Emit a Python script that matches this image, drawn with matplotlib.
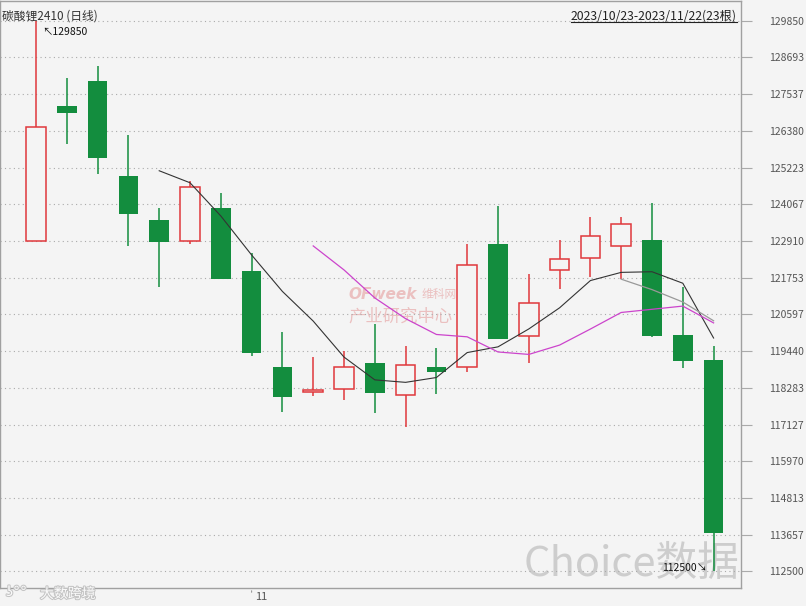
import numpy as np
import pandas as pd
import matplotlib
matplotlib.use('Agg')
from matplotlib import pyplot as plt
from matplotlib.lines import Line2D
import matplotlib.patheffects as pe

plt.rcParams['font.family'] = ['Noto Sans CJK SC', 'DejaVu Sans']

# daily K-line, 碳酸锂2410, 2023/10/23 - 2023/11/22
dates = pd.bdate_range('2023-10-23', '2023-11-22')
opens = [122920, 127160, 127950, 124960, 123570, 122900, 123950, 121970, 118940, 118140, 118260, 119080,
         118050, 118940, 118930, 122820, 119920, 121990, 122370, 122740, 122940, 119950, 119160]
closes = [126490, 126950, 125535, 123750, 122890, 124600, 121720, 119390, 118010, 118220, 118930, 118130,
          119000, 118770, 122150, 119830, 120950, 122330, 123060, 123440, 119930, 119140, 113700]
highs = [129850, 128060, 128420, 126250, 123950, 124790, 124430, 122520, 120040, 119260, 119450, 120300,
         119600, 119530, 122820, 124020, 121870, 122940, 123680, 123660, 124100, 121470, 119600]
lows = [122920, 125960, 125010, 122750, 121450, 122830, 121720, 119300, 117530, 118040, 117890, 117480,
        117040, 118080, 118790, 119830, 119080, 121390, 121770, 121700, 119900, 118920, 112500]
yticks = [129850, 128693, 127537, 126380, 125223, 124067, 122910, 121753, 120597, 119440,
          118283, 117127, 115970, 114813, 113657, 112500]

df = pd.DataFrame({'open': opens, 'close': closes, 'high': highs, 'low': lows}, index=dates)
ma5 = df['close'].rolling(5).mean()
ma10 = df['close'].rolling(10).mean()
ma20 = df['close'].rolling(20).mean()

bg = '#f4f4f4'
red = '#e0383c'
green = '#138d3e'

fig = plt.figure(figsize=(8.06, 6.06), dpi=100, facecolor=bg)
ax = fig.add_axes([0, 18 / 606, 741 / 806, 587 / 606], facecolor=bg)

x = np.arange(len(df))
w = 0.64
for i, (o, c, h, l) in enumerate(zip(opens, closes, highs, lows)):
    top, bot = max(o, c), min(o, c)
    if c >= o:
        ax.bar(i, max(top - bot, 60), w, bottom=bot, facecolor=bg, edgecolor=red, linewidth=1.1, zorder=3)
        ax.vlines(i, top, h, color=red, linewidth=1.1, zorder=3)
        ax.vlines(i, l, bot, color=red, linewidth=1.1, zorder=3)
    else:
        ax.vlines(i, l, h, color=green, linewidth=1.1, zorder=2)
        ax.bar(i, top - bot, w, bottom=bot, color=green, linewidth=0, zorder=3)

ax.plot(x, ma5, color='#333333', linewidth=0.8, zorder=4)
ax.plot(x, ma10, color='#cc44cc', linewidth=0.9, zorder=4)
ax.plot(x, ma20, color='#999999', linewidth=0.9, zorder=4)

ax.set_xlim(-36 / 30.8, (741 - 36) / 30.8)
ax.set_ylim(111980, 130470)

ax.yaxis.tick_right()
ax.set_yticks(yticks)
ax.set_yticklabels([str(v) for v in yticks], fontsize=7.5, color='#555555')
ax.tick_params(axis='y', length=8, color='#aaaaaa', pad=12, width=0.8)
ax.set_xticks([])
ax.grid(axis='y', linestyle=(0, (1, 3)), color='#aaaaaa', linewidth=0.8, zorder=0)

for s in ax.spines.values():
    s.set_color('#a0a0a0')
    s.set_linewidth(1)

# month tick "11"
nov = list(dates).index(pd.Timestamp('2023-11-01'))
ax.annotate('', xy=(nov, 0), xycoords=('data', 'axes fraction'), xytext=(nov, -0.012),
            arrowprops=dict(arrowstyle='-', color='#999999', lw=0.8), annotation_clip=False)
ax.text(nov + 0.1, -0.016, '11', transform=ax.get_xaxis_transform(), fontsize=8,
        color='#555555', ha='left', va='center')

# title and range
ax.text(2 / 741, 0.985, '碳酸锂2410 (日线)', transform=ax.transAxes, fontsize=8.5,
        color='#333333', ha='left', va='top')
rng = ax.text(737 / 741, 0.985, '2023/10/23-2023/11/22(23根)', transform=ax.transAxes,
              fontsize=8.8, color='#222222', ha='right', va='top')

# max / min marks
ax.text(0.2, highs[0] - 350, '\u2196129850', fontsize=7.5, color='#111111', ha='left', va='center', zorder=5)
imin = int(np.argmin(lows))
ax.text(imin - 0.2, lows[imin] + 100, '112500\u2198', fontsize=7.5, color='#111111', ha='right', va='center', zorder=5)

# watermarks
ax.text(0.998, 0.04, 'Choice数据', transform=ax.transAxes, fontsize=30, color='#c4c4c4',
        alpha=0.8, ha='right', va='center', zorder=1)
ax.text(348 / 741, 1 - 293 / 587, 'OFweek', transform=ax.transAxes, fontsize=11, color='#ebc0c0',
        fontweight='bold', style='italic', ha='left', va='center', zorder=1, family='DejaVu Sans')
ax.text(457 / 741, 1 - 294 / 587, '维科网', transform=ax.transAxes, fontsize=8.5, color='#ebc0c0',
        ha='right', va='center', zorder=1)
ax.text(401 / 741, 1 - 316 / 587, '产业研究中心', transform=ax.transAxes, fontsize=12.5, color='#ebc0c0',
        ha='center', va='center', zorder=1)
fig.text(40 / 806, 1 - 594 / 606, '大数跨境', fontsize=10, color='#fafafa', ha='left', va='center',
         path_effects=[pe.withStroke(linewidth=1.5, foreground='#c4c4c4')])
fig.text(6 / 806, 1 - 592 / 606, 'ʖ°°', fontsize=10, color='#fafafa', ha='left', va='center',
         family='DejaVu Sans', path_effects=[pe.withStroke(linewidth=1.5, foreground='#c4c4c4')])

# underline the date range
fig.canvas.draw()
bb = rng.get_window_extent().transformed(fig.transFigure.inverted())
fig.add_artist(Line2D([bb.x0, bb.x1], [bb.y0 + 0.002, bb.y0 + 0.002], color='#222222', linewidth=0.8))

fig.savefig('out.png', dpi=100, facecolor=bg)
